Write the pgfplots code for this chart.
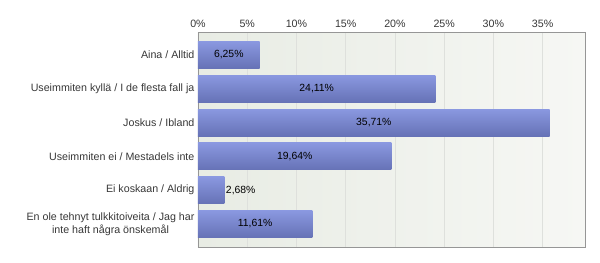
\documentclass[border=0pt]{standalone}
\usepackage{pgfplots}
\pgfplotsset{compat=1.18}
\usepackage{pgfplotstable}
\usepackage{fontspec}
\setmainfont{Liberation Sans}
\definecolor{bartop}{RGB}{138,152,224}
\definecolor{barbot}{RGB}{102,114,182}
\definecolor{bgleft}{RGB}{232,236,228}
\definecolor{bgright}{RGB}{246,247,244}
\definecolor{gridc}{RGB}{222,224,220}
\definecolor{framec}{RGB}{150,150,150}
\definecolor{labc}{RGB}{55,55,55}
\pgfplotstableread[col sep=comma]{
y,v,lab
0,6.25,{6,25\%}
1,24.11,{24,11\%}
2,35.71,{35,71\%}
3,19.64,{19,64\%}
5,11.61,{11,61\%}
}\inside
\pgfplotstableread[col sep=comma]{
y,v,lab
4,2.68,{2,68\%}
}\outside
\begin{document}
\begin{tikzpicture}
\path[use as bounding box] (0,0) rectangle (450pt,196.5pt);
\begin{axis}[
  at={(148.5pt,11.25pt)}, anchor=south west,
  scale only axis, width=290.25pt, height=161.25pt,
  xmin=0, xmax=39.3,
  ymin=-0.68, ymax=5.68, y dir=reverse,
  ytick={0,1,2,3,4,5},
  yticklabels={Aina / Alltid, Useimmiten kyllä / I de flesta fall ja, Joskus / Ibland, Useimmiten ei / Mestadels inte, Ei koskaan / Aldrig, {En ole tehnyt tulkkitoiveita / Jag har\\inte haft några önskemål}},
  yticklabel style={align=center, font=\fontsize{8}{9.6}\selectfont, text=labc, inner sep=2.5pt},
  xtick={0,5,10,15,20,25,30,35},
  xticklabels={0\%,5\%,10\%,15\%,20\%,25\%,30\%,35\%},
  xticklabel pos=upper,
  xticklabel style={font=\fontsize{8}{9.6}\selectfont, text=labc, inner sep=2pt, yshift=1pt},
  major tick length=0pt,
  xmajorgrids, grid style={draw=gridc, line width=0.6pt},
  axis line style={draw=framec, line width=0.6pt},
  axis background/.style={left color=bgleft, right color=bgright},
  clip=false,
  barst/.style={xbar, bar shift=0pt, bar width=20.25pt, draw=none, top color=bartop, bottom color=barbot},
]
\addplot[barst] coordinates {(6.25,0)};
\addplot[barst] coordinates {(24.11,1)};
\addplot[barst] coordinates {(35.71,2)};
\addplot[barst] coordinates {(19.64,3)};
\addplot[barst] coordinates {(2.68,4)};
\addplot[barst] coordinates {(11.61,5)};
\addplot[draw=none, mark=none, nodes near coords, point meta=explicit symbolic,
  nodes near coords style={anchor=center, font=\fontsize{7.8}{9}\selectfont, text=black}]
  table[x expr=\thisrow{v}/2, y=y, meta=lab] {\inside};
\addplot[draw=none, mark=none, nodes near coords, point meta=explicit symbolic,
  nodes near coords style={anchor=west, inner sep=1pt, font=\fontsize{7.8}{9}\selectfont, text=black}]
  table[x=v, y=y, meta=lab] {\outside};
\end{axis}
\end{tikzpicture}
\end{document}
